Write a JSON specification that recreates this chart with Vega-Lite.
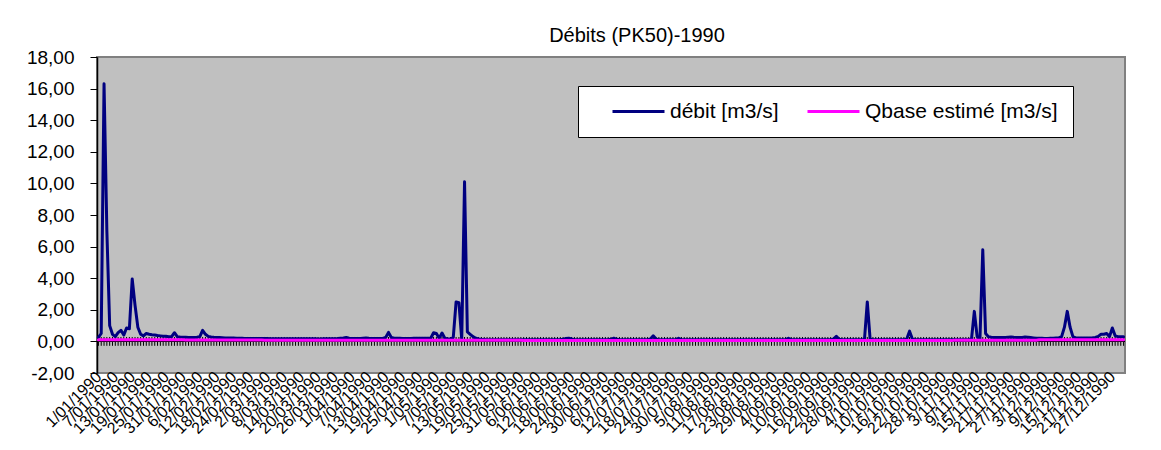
{
  "$schema": "https://vega.github.io/schema/vega-lite/v6.json",
  "width": 1028,
  "height": 316,
  "autosize": "none",
  "padding": {"left": 97, "top": 57, "right": 36, "bottom": 77},
  "background": "white",
  "config": {
    "font": "Liberation Sans",
    "view": {"fill": "#c0c0c0", "stroke": "#808080", "strokeWidth": 2},
    "axisY": {"labelOverlap": false},
    "axisQuantitative": {"labelOverlap": false}
  },
  "title": {
    "text": "Débits (PK50)-1990",
    "fontSize": 20,
    "fontWeight": "normal",
    "color": "black",
    "anchor": "middle",
    "frame": "group",
    "dx": 26,
    "offset": -14,
    "baseline": "alphabetic"
  },
  "data": {
    "values": [
      {"d":"1/01/1990","debit":0.25,"qbase":0.1},{"d":"2/01/1990","debit":0.5,"qbase":0.1},{"d":"3/01/1990","debit":16.3,"qbase":0.1},{"d":"4/01/1990","debit":7.0,"qbase":0.1},{"d":"5/01/1990","debit":1.0,"qbase":0.1},{"d":"6/01/1990","debit":0.45,"qbase":0.1},{"d":"7/01/1990","debit":0.3,"qbase":0.1},{"d":"8/01/1990","debit":0.55,"qbase":0.1},{"d":"9/01/1990","debit":0.7,"qbase":0.1},{"d":"10/01/1990","debit":0.4,"qbase":0.1},{"d":"11/01/1990","debit":0.85,"qbase":0.1},{"d":"12/01/1990","debit":0.8,"qbase":0.1},{"d":"13/01/1990","debit":3.95,"qbase":0.1},{"d":"14/01/1990","debit":2.3,"qbase":0.1},{"d":"15/01/1990","debit":0.9,"qbase":0.1},{"d":"16/01/1990","debit":0.45,"qbase":0.1},{"d":"17/01/1990","debit":0.35,"qbase":0.1},{"d":"18/01/1990","debit":0.5,"qbase":0.1},{"d":"19/01/1990","debit":0.45,"qbase":0.1},{"d":"20/01/1990","debit":0.42,"qbase":0.1},{"d":"21/01/1990","debit":0.4,"qbase":0.1},{"d":"22/01/1990","debit":0.37,"qbase":0.1},{"d":"23/01/1990","debit":0.35,"qbase":0.1},{"d":"24/01/1990","debit":0.33,"qbase":0.1},{"d":"25/01/1990","debit":0.32,"qbase":0.1},{"d":"26/01/1990","debit":0.3,"qbase":0.1},{"d":"27/01/1990","debit":0.3,"qbase":0.1},{"d":"28/01/1990","debit":0.55,"qbase":0.1},{"d":"29/01/1990","debit":0.3,"qbase":0.1},{"d":"30/01/1990","debit":0.28,"qbase":0.1},{"d":"31/01/1990","debit":0.27,"qbase":0.1},
      {"d":"1/02/1990","debit":0.26,"qbase":0.09},{"d":"2/02/1990","debit":0.25,"qbase":0.09},{"d":"3/02/1990","debit":0.25,"qbase":0.09},{"d":"4/02/1990","debit":0.25,"qbase":0.09},{"d":"5/02/1990","debit":0.26,"qbase":0.09},{"d":"6/02/1990","debit":0.3,"qbase":0.09},{"d":"7/02/1990","debit":0.7,"qbase":0.09},{"d":"8/02/1990","debit":0.45,"qbase":0.09},{"d":"9/02/1990","debit":0.32,"qbase":0.09},{"d":"10/02/1990","debit":0.28,"qbase":0.09},{"d":"11/02/1990","debit":0.26,"qbase":0.09},{"d":"12/02/1990","debit":0.25,"qbase":0.09},{"d":"13/02/1990","debit":0.24,"qbase":0.09},{"d":"14/02/1990","debit":0.23,"qbase":0.09},{"d":"15/02/1990","debit":0.22,"qbase":0.09},{"d":"16/02/1990","debit":0.22,"qbase":0.09},{"d":"17/02/1990","debit":0.21,"qbase":0.09},{"d":"18/02/1990","debit":0.21,"qbase":0.09},{"d":"19/02/1990","debit":0.2,"qbase":0.09},{"d":"20/02/1990","debit":0.2,"qbase":0.09},{"d":"21/02/1990","debit":0.2,"qbase":0.09},{"d":"22/02/1990","debit":0.19,"qbase":0.09},{"d":"23/02/1990","debit":0.19,"qbase":0.09},{"d":"24/02/1990","debit":0.19,"qbase":0.09},{"d":"25/02/1990","debit":0.18,"qbase":0.09},{"d":"26/02/1990","debit":0.18,"qbase":0.09},{"d":"27/02/1990","debit":0.18,"qbase":0.09},{"d":"28/02/1990","debit":0.18,"qbase":0.09},
      {"d":"1/03/1990","debit":0.18,"qbase":0.08},{"d":"2/03/1990","debit":0.18,"qbase":0.08},{"d":"3/03/1990","debit":0.17,"qbase":0.08},{"d":"4/03/1990","debit":0.17,"qbase":0.08},{"d":"5/03/1990","debit":0.17,"qbase":0.08},{"d":"6/03/1990","debit":0.17,"qbase":0.08},{"d":"7/03/1990","debit":0.16,"qbase":0.08},{"d":"8/03/1990","debit":0.16,"qbase":0.08},{"d":"9/03/1990","debit":0.17,"qbase":0.08},{"d":"10/03/1990","debit":0.17,"qbase":0.08},{"d":"11/03/1990","debit":0.16,"qbase":0.08},{"d":"12/03/1990","debit":0.16,"qbase":0.08},{"d":"13/03/1990","debit":0.16,"qbase":0.08},{"d":"14/03/1990","debit":0.17,"qbase":0.08},{"d":"15/03/1990","debit":0.17,"qbase":0.08},{"d":"16/03/1990","debit":0.16,"qbase":0.08},{"d":"17/03/1990","debit":0.16,"qbase":0.08},{"d":"18/03/1990","debit":0.16,"qbase":0.08},{"d":"19/03/1990","debit":0.16,"qbase":0.08},{"d":"20/03/1990","debit":0.15,"qbase":0.08},{"d":"21/03/1990","debit":0.15,"qbase":0.08},{"d":"22/03/1990","debit":0.16,"qbase":0.08},{"d":"23/03/1990","debit":0.16,"qbase":0.08},{"d":"24/03/1990","debit":0.17,"qbase":0.08},{"d":"25/03/1990","debit":0.17,"qbase":0.08},{"d":"26/03/1990","debit":0.17,"qbase":0.08},{"d":"27/03/1990","debit":0.18,"qbase":0.08},{"d":"28/03/1990","debit":0.2,"qbase":0.08},{"d":"29/03/1990","debit":0.22,"qbase":0.08},{"d":"30/03/1990","debit":0.25,"qbase":0.08},{"d":"31/03/1990","debit":0.2,"qbase":0.08},
      {"d":"1/04/1990","debit":0.19,"qbase":0.07},{"d":"2/04/1990","debit":0.18,"qbase":0.07},{"d":"3/04/1990","debit":0.18,"qbase":0.07},{"d":"4/04/1990","debit":0.18,"qbase":0.07},{"d":"5/04/1990","debit":0.2,"qbase":0.07},{"d":"6/04/1990","debit":0.22,"qbase":0.07},{"d":"7/04/1990","debit":0.2,"qbase":0.07},{"d":"8/04/1990","debit":0.19,"qbase":0.07},{"d":"9/04/1990","debit":0.18,"qbase":0.07},{"d":"10/04/1990","debit":0.18,"qbase":0.07},{"d":"11/04/1990","debit":0.18,"qbase":0.07},{"d":"12/04/1990","debit":0.19,"qbase":0.07},{"d":"13/04/1990","debit":0.25,"qbase":0.07},{"d":"14/04/1990","debit":0.57,"qbase":0.07},{"d":"15/04/1990","debit":0.25,"qbase":0.07},{"d":"16/04/1990","debit":0.2,"qbase":0.07},{"d":"17/04/1990","debit":0.2,"qbase":0.07},{"d":"18/04/1990","debit":0.2,"qbase":0.07},{"d":"19/04/1990","debit":0.19,"qbase":0.07},{"d":"20/04/1990","debit":0.19,"qbase":0.07},{"d":"21/04/1990","debit":0.19,"qbase":0.07},{"d":"22/04/1990","debit":0.19,"qbase":0.07},{"d":"23/04/1990","debit":0.2,"qbase":0.07},{"d":"24/04/1990","debit":0.2,"qbase":0.07},{"d":"25/04/1990","debit":0.2,"qbase":0.07},{"d":"26/04/1990","debit":0.2,"qbase":0.07},{"d":"27/04/1990","debit":0.2,"qbase":0.07},{"d":"28/04/1990","debit":0.2,"qbase":0.07},{"d":"29/04/1990","debit":0.2,"qbase":0.07},{"d":"30/04/1990","debit":0.55,"qbase":0.07},
      {"d":"1/05/1990","debit":0.5,"qbase":0.07},{"d":"2/05/1990","debit":0.2,"qbase":0.07},{"d":"3/05/1990","debit":0.53,"qbase":0.07},{"d":"4/05/1990","debit":0.2,"qbase":0.07},{"d":"5/05/1990","debit":0.15,"qbase":0.07},{"d":"6/05/1990","debit":0.15,"qbase":0.07},{"d":"7/05/1990","debit":0.25,"qbase":0.07},{"d":"8/05/1990","debit":2.5,"qbase":0.07},{"d":"9/05/1990","debit":2.45,"qbase":0.07},{"d":"10/05/1990","debit":0.12,"qbase":0.07},{"d":"11/05/1990","debit":10.1,"qbase":0.07},{"d":"12/05/1990","debit":0.6,"qbase":0.07},{"d":"13/05/1990","debit":0.45,"qbase":0.07},{"d":"14/05/1990","debit":0.3,"qbase":0.07},{"d":"15/05/1990","debit":0.2,"qbase":0.07},{"d":"16/05/1990","debit":0.15,"qbase":0.07},{"d":"17/05/1990","debit":0.13,"qbase":0.07},{"d":"18/05/1990","debit":0.12,"qbase":0.07},{"d":"19/05/1990","debit":0.1,"qbase":0.07},{"d":"20/05/1990","debit":0.1,"qbase":0.07},{"d":"21/05/1990","debit":0.1,"qbase":0.07},{"d":"22/05/1990","debit":0.1,"qbase":0.07},{"d":"23/05/1990","debit":0.1,"qbase":0.07},{"d":"24/05/1990","debit":0.1,"qbase":0.07},{"d":"25/05/1990","debit":0.1,"qbase":0.07},{"d":"26/05/1990","debit":0.1,"qbase":0.07},{"d":"27/05/1990","debit":0.1,"qbase":0.07},{"d":"28/05/1990","debit":0.1,"qbase":0.07},{"d":"29/05/1990","debit":0.1,"qbase":0.07},{"d":"30/05/1990","debit":0.1,"qbase":0.07},{"d":"31/05/1990","debit":0.1,"qbase":0.07},
      {"d":"1/06/1990","debit":0.1,"qbase":0.06},{"d":"2/06/1990","debit":0.1,"qbase":0.06},{"d":"3/06/1990","debit":0.1,"qbase":0.06},{"d":"4/06/1990","debit":0.1,"qbase":0.06},{"d":"5/06/1990","debit":0.1,"qbase":0.06},{"d":"6/06/1990","debit":0.1,"qbase":0.06},{"d":"7/06/1990","debit":0.1,"qbase":0.06},{"d":"8/06/1990","debit":0.1,"qbase":0.06},{"d":"9/06/1990","debit":0.1,"qbase":0.06},{"d":"10/06/1990","debit":0.1,"qbase":0.06},{"d":"11/06/1990","debit":0.1,"qbase":0.06},{"d":"12/06/1990","debit":0.1,"qbase":0.06},{"d":"13/06/1990","debit":0.1,"qbase":0.06},{"d":"14/06/1990","debit":0.1,"qbase":0.06},{"d":"15/06/1990","debit":0.13,"qbase":0.06},{"d":"16/06/1990","debit":0.18,"qbase":0.06},{"d":"17/06/1990","debit":0.2,"qbase":0.06},{"d":"18/06/1990","debit":0.15,"qbase":0.06},{"d":"19/06/1990","debit":0.1,"qbase":0.06},{"d":"20/06/1990","debit":0.1,"qbase":0.06},{"d":"21/06/1990","debit":0.1,"qbase":0.06},{"d":"22/06/1990","debit":0.1,"qbase":0.06},{"d":"23/06/1990","debit":0.1,"qbase":0.06},{"d":"24/06/1990","debit":0.1,"qbase":0.06},{"d":"25/06/1990","debit":0.1,"qbase":0.06},{"d":"26/06/1990","debit":0.1,"qbase":0.06},{"d":"27/06/1990","debit":0.1,"qbase":0.06},{"d":"28/06/1990","debit":0.1,"qbase":0.06},{"d":"29/06/1990","debit":0.1,"qbase":0.06},{"d":"30/06/1990","debit":0.1,"qbase":0.06},
      {"d":"1/07/1990","debit":0.1,"qbase":0.05},{"d":"2/07/1990","debit":0.13,"qbase":0.05},{"d":"3/07/1990","debit":0.2,"qbase":0.05},{"d":"4/07/1990","debit":0.13,"qbase":0.05},{"d":"5/07/1990","debit":0.1,"qbase":0.05},{"d":"6/07/1990","debit":0.1,"qbase":0.05},{"d":"7/07/1990","debit":0.1,"qbase":0.05},{"d":"8/07/1990","debit":0.1,"qbase":0.05},{"d":"9/07/1990","debit":0.1,"qbase":0.05},{"d":"10/07/1990","debit":0.1,"qbase":0.05},{"d":"11/07/1990","debit":0.1,"qbase":0.05},{"d":"12/07/1990","debit":0.1,"qbase":0.05},{"d":"13/07/1990","debit":0.1,"qbase":0.05},{"d":"14/07/1990","debit":0.1,"qbase":0.05},{"d":"15/07/1990","debit":0.1,"qbase":0.05},{"d":"16/07/1990","debit":0.15,"qbase":0.05},{"d":"17/07/1990","debit":0.35,"qbase":0.05},{"d":"18/07/1990","debit":0.15,"qbase":0.05},{"d":"19/07/1990","debit":0.1,"qbase":0.05},{"d":"20/07/1990","debit":0.1,"qbase":0.05},{"d":"21/07/1990","debit":0.1,"qbase":0.05},{"d":"22/07/1990","debit":0.1,"qbase":0.05},{"d":"23/07/1990","debit":0.1,"qbase":0.05},{"d":"24/07/1990","debit":0.1,"qbase":0.05},{"d":"25/07/1990","debit":0.1,"qbase":0.05},{"d":"26/07/1990","debit":0.2,"qbase":0.05},{"d":"27/07/1990","debit":0.1,"qbase":0.05},{"d":"28/07/1990","debit":0.1,"qbase":0.05},{"d":"29/07/1990","debit":0.1,"qbase":0.05},{"d":"30/07/1990","debit":0.1,"qbase":0.05},{"d":"31/07/1990","debit":0.1,"qbase":0.05},
      {"d":"1/08/1990","debit":0.1,"qbase":0.05},{"d":"2/08/1990","debit":0.1,"qbase":0.05},{"d":"3/08/1990","debit":0.1,"qbase":0.05},{"d":"4/08/1990","debit":0.1,"qbase":0.05},{"d":"5/08/1990","debit":0.1,"qbase":0.05},{"d":"6/08/1990","debit":0.1,"qbase":0.05},{"d":"7/08/1990","debit":0.1,"qbase":0.05},{"d":"8/08/1990","debit":0.1,"qbase":0.05},{"d":"9/08/1990","debit":0.1,"qbase":0.05},{"d":"10/08/1990","debit":0.1,"qbase":0.05},{"d":"11/08/1990","debit":0.1,"qbase":0.05},{"d":"12/08/1990","debit":0.1,"qbase":0.05},{"d":"13/08/1990","debit":0.1,"qbase":0.05},{"d":"14/08/1990","debit":0.1,"qbase":0.05},{"d":"15/08/1990","debit":0.1,"qbase":0.05},{"d":"16/08/1990","debit":0.1,"qbase":0.05},{"d":"17/08/1990","debit":0.1,"qbase":0.05},{"d":"18/08/1990","debit":0.1,"qbase":0.05},{"d":"19/08/1990","debit":0.1,"qbase":0.05},{"d":"20/08/1990","debit":0.1,"qbase":0.05},{"d":"21/08/1990","debit":0.1,"qbase":0.05},{"d":"22/08/1990","debit":0.1,"qbase":0.05},{"d":"23/08/1990","debit":0.1,"qbase":0.05},{"d":"24/08/1990","debit":0.1,"qbase":0.05},{"d":"25/08/1990","debit":0.1,"qbase":0.05},{"d":"26/08/1990","debit":0.1,"qbase":0.05},{"d":"27/08/1990","debit":0.1,"qbase":0.05},{"d":"28/08/1990","debit":0.1,"qbase":0.05},{"d":"29/08/1990","debit":0.1,"qbase":0.05},{"d":"30/08/1990","debit":0.1,"qbase":0.05},{"d":"31/08/1990","debit":0.1,"qbase":0.05},
      {"d":"1/09/1990","debit":0.1,"qbase":0.05},{"d":"2/09/1990","debit":0.1,"qbase":0.05},{"d":"3/09/1990","debit":0.2,"qbase":0.05},{"d":"4/09/1990","debit":0.1,"qbase":0.05},{"d":"5/09/1990","debit":0.1,"qbase":0.05},{"d":"6/09/1990","debit":0.1,"qbase":0.05},{"d":"7/09/1990","debit":0.1,"qbase":0.05},{"d":"8/09/1990","debit":0.1,"qbase":0.05},{"d":"9/09/1990","debit":0.1,"qbase":0.05},{"d":"10/09/1990","debit":0.1,"qbase":0.05},{"d":"11/09/1990","debit":0.1,"qbase":0.05},{"d":"12/09/1990","debit":0.1,"qbase":0.05},{"d":"13/09/1990","debit":0.1,"qbase":0.05},{"d":"14/09/1990","debit":0.1,"qbase":0.05},{"d":"15/09/1990","debit":0.1,"qbase":0.05},{"d":"16/09/1990","debit":0.1,"qbase":0.05},{"d":"17/09/1990","debit":0.1,"qbase":0.05},{"d":"18/09/1990","debit":0.1,"qbase":0.05},{"d":"19/09/1990","debit":0.15,"qbase":0.05},{"d":"20/09/1990","debit":0.32,"qbase":0.05},{"d":"21/09/1990","debit":0.13,"qbase":0.05},{"d":"22/09/1990","debit":0.1,"qbase":0.05},{"d":"23/09/1990","debit":0.1,"qbase":0.05},{"d":"24/09/1990","debit":0.1,"qbase":0.05},{"d":"25/09/1990","debit":0.1,"qbase":0.05},{"d":"26/09/1990","debit":0.1,"qbase":0.05},{"d":"27/09/1990","debit":0.1,"qbase":0.05},{"d":"28/09/1990","debit":0.1,"qbase":0.05},{"d":"29/09/1990","debit":0.1,"qbase":0.05},{"d":"30/09/1990","debit":0.12,"qbase":0.05},
      {"d":"1/10/1990","debit":2.5,"qbase":0.05},{"d":"2/10/1990","debit":0.15,"qbase":0.05},{"d":"3/10/1990","debit":0.1,"qbase":0.05},{"d":"4/10/1990","debit":0.1,"qbase":0.05},{"d":"5/10/1990","debit":0.1,"qbase":0.05},{"d":"6/10/1990","debit":0.1,"qbase":0.05},{"d":"7/10/1990","debit":0.1,"qbase":0.05},{"d":"8/10/1990","debit":0.1,"qbase":0.05},{"d":"9/10/1990","debit":0.1,"qbase":0.05},{"d":"10/10/1990","debit":0.1,"qbase":0.05},{"d":"11/10/1990","debit":0.1,"qbase":0.05},{"d":"12/10/1990","debit":0.1,"qbase":0.05},{"d":"13/10/1990","debit":0.1,"qbase":0.05},{"d":"14/10/1990","debit":0.1,"qbase":0.05},{"d":"15/10/1990","debit":0.15,"qbase":0.05},{"d":"16/10/1990","debit":0.65,"qbase":0.05},{"d":"17/10/1990","debit":0.15,"qbase":0.05},{"d":"18/10/1990","debit":0.1,"qbase":0.05},{"d":"19/10/1990","debit":0.1,"qbase":0.05},{"d":"20/10/1990","debit":0.1,"qbase":0.05},{"d":"21/10/1990","debit":0.1,"qbase":0.05},{"d":"22/10/1990","debit":0.1,"qbase":0.05},{"d":"23/10/1990","debit":0.1,"qbase":0.05},{"d":"24/10/1990","debit":0.1,"qbase":0.05},{"d":"25/10/1990","debit":0.1,"qbase":0.05},{"d":"26/10/1990","debit":0.1,"qbase":0.05},{"d":"27/10/1990","debit":0.1,"qbase":0.05},{"d":"28/10/1990","debit":0.1,"qbase":0.05},{"d":"29/10/1990","debit":0.1,"qbase":0.05},{"d":"30/10/1990","debit":0.1,"qbase":0.05},{"d":"31/10/1990","debit":0.1,"qbase":0.05},
      {"d":"1/11/1990","debit":0.1,"qbase":0.08},{"d":"2/11/1990","debit":0.1,"qbase":0.08},{"d":"3/11/1990","debit":0.1,"qbase":0.08},{"d":"4/11/1990","debit":0.1,"qbase":0.08},{"d":"5/11/1990","debit":0.1,"qbase":0.08},{"d":"6/11/1990","debit":0.1,"qbase":0.08},{"d":"7/11/1990","debit":0.15,"qbase":0.08},{"d":"8/11/1990","debit":1.9,"qbase":0.08},{"d":"9/11/1990","debit":0.3,"qbase":0.08},{"d":"10/11/1990","debit":0.15,"qbase":0.08},{"d":"11/11/1990","debit":5.8,"qbase":0.08},{"d":"12/11/1990","debit":0.5,"qbase":0.08},{"d":"13/11/1990","debit":0.3,"qbase":0.08},{"d":"14/11/1990","debit":0.26,"qbase":0.08},{"d":"15/11/1990","debit":0.25,"qbase":0.08},{"d":"16/11/1990","debit":0.25,"qbase":0.08},{"d":"17/11/1990","debit":0.24,"qbase":0.08},{"d":"18/11/1990","debit":0.24,"qbase":0.08},{"d":"19/11/1990","debit":0.25,"qbase":0.08},{"d":"20/11/1990","debit":0.27,"qbase":0.08},{"d":"21/11/1990","debit":0.28,"qbase":0.08},{"d":"22/11/1990","debit":0.26,"qbase":0.08},{"d":"23/11/1990","debit":0.25,"qbase":0.08},{"d":"24/11/1990","debit":0.24,"qbase":0.08},{"d":"25/11/1990","debit":0.25,"qbase":0.08},{"d":"26/11/1990","debit":0.28,"qbase":0.08},{"d":"27/11/1990","debit":0.26,"qbase":0.08},{"d":"28/11/1990","debit":0.24,"qbase":0.08},{"d":"29/11/1990","debit":0.22,"qbase":0.08},{"d":"30/11/1990","debit":0.2,"qbase":0.08},
      {"d":"1/12/1990","debit":0.2,"qbase":0.1},{"d":"2/12/1990","debit":0.2,"qbase":0.1},{"d":"3/12/1990","debit":0.19,"qbase":0.1},{"d":"4/12/1990","debit":0.19,"qbase":0.1},{"d":"5/12/1990","debit":0.2,"qbase":0.1},{"d":"6/12/1990","debit":0.2,"qbase":0.1},{"d":"7/12/1990","debit":0.21,"qbase":0.1},{"d":"8/12/1990","debit":0.22,"qbase":0.1},{"d":"9/12/1990","debit":0.3,"qbase":0.1},{"d":"10/12/1990","debit":0.9,"qbase":0.1},{"d":"11/12/1990","debit":1.9,"qbase":0.1},{"d":"12/12/1990","debit":0.9,"qbase":0.1},{"d":"13/12/1990","debit":0.3,"qbase":0.1},{"d":"14/12/1990","debit":0.22,"qbase":0.1},{"d":"15/12/1990","debit":0.21,"qbase":0.1},{"d":"16/12/1990","debit":0.21,"qbase":0.1},{"d":"17/12/1990","debit":0.21,"qbase":0.1},{"d":"18/12/1990","debit":0.22,"qbase":0.1},{"d":"19/12/1990","debit":0.22,"qbase":0.1},{"d":"20/12/1990","debit":0.23,"qbase":0.1},{"d":"21/12/1990","debit":0.25,"qbase":0.1},{"d":"22/12/1990","debit":0.32,"qbase":0.1},{"d":"23/12/1990","debit":0.45,"qbase":0.1},{"d":"24/12/1990","debit":0.45,"qbase":0.1},{"d":"25/12/1990","debit":0.5,"qbase":0.1},{"d":"26/12/1990","debit":0.3,"qbase":0.1},{"d":"27/12/1990","debit":0.85,"qbase":0.1},{"d":"28/12/1990","debit":0.35,"qbase":0.1},{"d":"29/12/1990","debit":0.3,"qbase":0.1},{"d":"30/12/1990","debit":0.3,"qbase":0.1},{"d":"31/12/1990","debit":0.3,"qbase":0.1}
    ]
  },
  "layer": [
    {
      "mark": {"type": "rule", "color": "black", "strokeWidth": 1},
      "encoding": {
        "y": {
          "datum": 0,
          "type": "quantitative",
          "scale": {"domain": [-2, 18], "nice": false, "zero": false},
          "axis": {
            "title": null,
            "grid": false,
            "values": [-2, 0, 2, 4, 6, 8, 10, 12, 14, 16, 18],
            "tickCount": 11,
            "labelExpr": "(datum.value < 0 ? '-' : '') + replace(format(abs(datum.value), '.2f'), '.', ',')",
            "labelOverlap": false,
            "labelBound": false,
            "labelFlush": false,
            "labelFontSize": 19,
            "labelColor": "black",
            "labelPadding": 16,
            "tickSize": 7,
            "tickColor": "black",
            "tickWidth": 1,
            "domainColor": "black",
            "domainWidth": 1.5
          }
        }
      }
    },
    {
      "mark": {"type": "rule", "color": "black", "strokeWidth": 1},
      "encoding": {
        "x": {
          "field": "d", "type": "ordinal", "sort": null,
          "scale": {"type": "point", "padding": 0.5},
          "axis": {
            "orient": "bottom",
            "title": null,
            "domain": false,
            "ticks": false,
            "tickSize": 0,
            "grid": false,
            "labelAngle": -45,
            "labelAlign": "right",
            "labelBaseline": "middle",
            "labelOverlap": false,
            "labelBound": false,
            "labelFlush": false,
            "labelPadding": 1,
            "labelFontSize": 16,
            "labelColor": "black",
            "values": ["1/01/1990","7/01/1990","13/01/1990","19/01/1990","25/01/1990","31/01/1990","6/02/1990","12/02/1990","18/02/1990","24/02/1990","2/03/1990","8/03/1990","14/03/1990","20/03/1990","26/03/1990","1/04/1990","7/04/1990","13/04/1990","19/04/1990","25/04/1990","1/05/1990","7/05/1990","13/05/1990","19/05/1990","25/05/1990","31/05/1990","6/06/1990","12/06/1990","18/06/1990","24/06/1990","30/06/1990","6/07/1990","12/07/1990","18/07/1990","24/07/1990","30/07/1990","5/08/1990","11/08/1990","17/08/1990","23/08/1990","29/08/1990","4/09/1990","10/09/1990","16/09/1990","22/09/1990","28/09/1990","4/10/1990","10/10/1990","16/10/1990","22/10/1990","28/10/1990","3/11/1990","9/11/1990","15/11/1990","21/11/1990","27/11/1990","3/12/1990","9/12/1990","15/12/1990","21/12/1990","27/12/1990"]
          }
        },
        "y": {"datum": -0.28},
        "y2": {"datum": 0.28}
      }
    },
    {
      "mark": {"type": "line", "strokeWidth": 3, "strokeJoin": "round", "strokeCap": "round"},
      "encoding": {
        "x": {"field": "d", "type": "ordinal", "sort": null},
        "y": {"field": "debit", "type": "quantitative"},
        "color": {
          "datum": "débit [m3/s]",
          "type": "nominal",
          "scale": {"domain": ["débit [m3/s]", "Qbase estimé [m3/s]"], "range": ["#000080", "#ff00ff"]},
          "legend": {
            "title": null,
            "orient": "none",
            "legendX": 481,
            "legendY": 29,
            "direction": "horizontal",
            "fillColor": "white",
            "strokeColor": "black",
            "padding": 15,
            "clipHeight": 21,
            "symbolType": "stroke",
            "symbolSize": 2704,
            "symbolStrokeWidth": 3,
            "symbolOffset": 18,
            "labelOffset": 4,
            "labelFontSize": 21,
            "labelColor": "black",
            "labelLimit": 400,
            "columnPadding": 9
          }
        }
      }
    },
    {
      "mark": {"type": "line", "strokeWidth": 3, "strokeJoin": "round", "strokeCap": "round"},
      "encoding": {
        "x": {"field": "d", "type": "ordinal", "sort": null},
        "y": {"field": "qbase", "type": "quantitative"},
        "color": {"datum": "Qbase estimé [m3/s]", "type": "nominal"}
      }
    }
  ]
}
